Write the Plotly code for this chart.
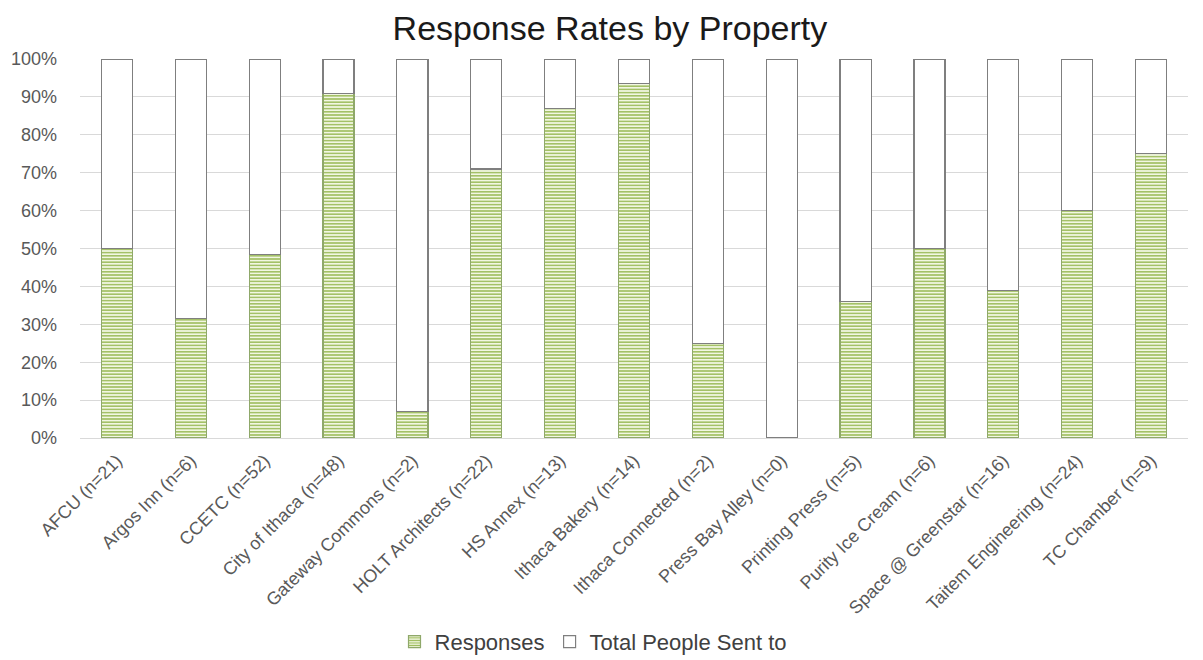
import plotly.graph_objects as go

categories = ["AFCU (n=21)", "Argos Inn (n=6)", "CCETC (n=52)", "City of Ithaca (n=48)",
              "Gateway Commons (n=2)", "HOLT Architects (n=22)", "HS Annex (n=13)",
              "Ithaca Bakery (n=14)", "Ithaca Connected (n=2)", "Press Bay Alley (n=0)",
              "Printing Press (n=5)", "Purity Ice Cream (n=6)", "Space @ Greenstar (n=16)",
              "Taitem Engineering (n=24)", "TC Chamber (n=9)"]
responses_pct = [50, 31.5, 48.5, 90.8, 7, 71, 87, 93.5, 25, 0, 36, 50, 39, 60, 75]
remaining_pct = [100 - v for v in responses_pct]
tick_vals = [0, 10, 20, 30, 40, 50, 60, 70, 80, 90, 100]
tick_text = [f"{v}%" for v in tick_vals]

fig = go.Figure()
fig.add_trace(go.Bar(
    x=categories, y=responses_pct, name="Responses",
    marker=dict(color="#eef4d9", line=dict(color="#8fa86a", width=1.2),
                pattern=dict(shape="-", fgcolor="#9bbb59", bgcolor="#f2f7e2",
                             size=3.2, solidity=0.45, fillmode="replace")),
))
fig.add_trace(go.Bar(
    x=categories, y=remaining_pct, name="Total People Sent to",
    marker=dict(color="#ffffff", line=dict(color="#7f7f7f", width=1.2)),
))

fig.update_layout(
    barmode="stack",
    bargap=0.58,
    width=1203, height=660,
    paper_bgcolor="white", plot_bgcolor="white",
    margin=dict(l=80, r=15, t=59, b=222, autoexpand=False),
    title=dict(text="Response Rates by Property", x=0.507, xanchor="center",
               y=0.958, yanchor="middle",
               font=dict(family="Liberation Sans, Arial", size=34, color="#1a1a1a")),
    font=dict(family="Liberation Sans, Arial", size=18, color="#595959"),
    legend=dict(orientation="h", x=0.463, xanchor="center", y=-0.538, yanchor="middle",
                font=dict(size=22, color="#404040"), traceorder="normal",
                itemwidth=30),
    showlegend=True,
)
fig.update_xaxes(tickangle=-45, showgrid=False, showline=True, linecolor="#d9d9d9",
                 ticks="", tickfont=dict(size=18, color="#595959"), automargin=False,
                 ticklabelstandoff=4)
fig.update_yaxes(range=[0, 100], tickvals=tick_vals, ticktext=tick_text,
                 showgrid=True, gridcolor="#d9d9d9", gridwidth=1, zeroline=False,
                 tickfont=dict(size=18, color="#595959"), ticks="", automargin=False,
                 ticklabelstandoff=22)

fig.write_html("out.html")
